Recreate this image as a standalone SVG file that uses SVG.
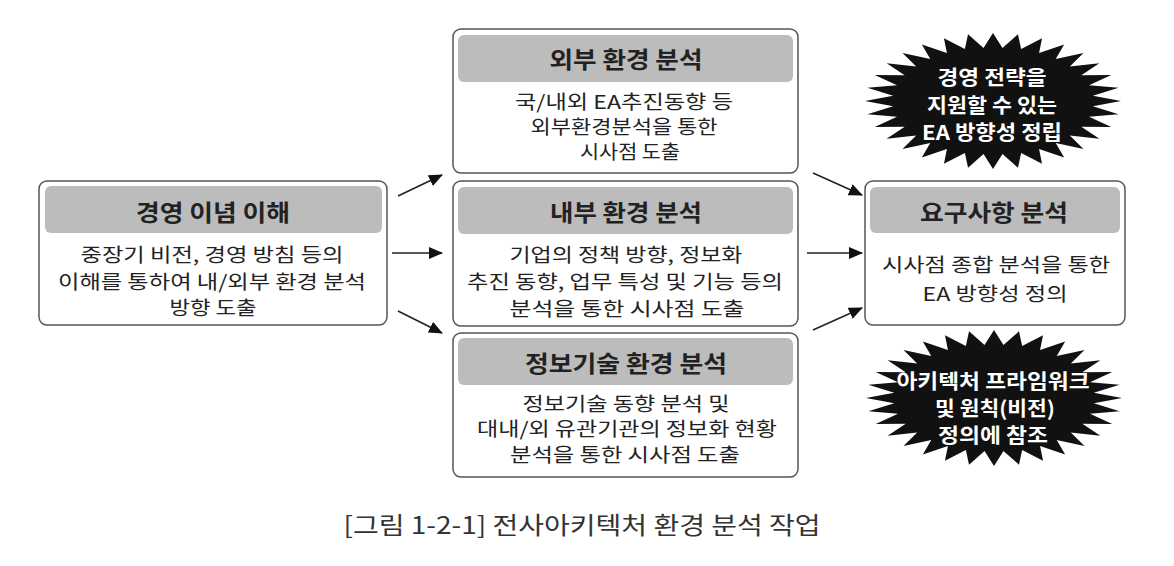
<svg xmlns="http://www.w3.org/2000/svg" width="1174" height="566" viewBox="0 0 1174 566">
<style>
.box{fill:#fff;stroke:#555;stroke-width:1.5}
.hdr{fill:#bcbcbc}
text{font-family:"Noto Sans CJK KR","Noto Sans",sans-serif;text-anchor:middle;dominant-baseline:central;fill:#222}
.h{font-size:23px;font-weight:bold}
.b{font-size:19px}
.s{font-size:20px;font-weight:bold;fill:#fff}
.cap{font-size:24px;fill:#333}
.conn line{stroke:#222;stroke-width:1.6;marker-end:url(#ah)}
</style>
<defs>
<marker id="ah" viewBox="0 0 14 12" refX="13" refY="6" markerWidth="14" markerHeight="12" markerUnits="userSpaceOnUse" orient="auto">
<path d="M0,0 L14,6 L0,12 z" fill="#111"/>
</marker>
<polygon id="star" points="1,0 .78,.078 .981,.195 .75,.232 .924,.383 .69,.377 .831,.556 .6,.508 .707,.707 .49,.618 .556,.831 .36,.706 .383,.924 .22,.766 .195,.981 .074,.78 0,1 -.074,.78 -.195,.981 -.22,.766 -.383,.924 -.36,.706 -.556,.831 -.49,.618 -.707,.707 -.6,.508 -.831,.556 -.69,.377 -.924,.383 -.75,.232 -.981,.195 -.78,.078 -1,0 -.78,-.078 -.981,-.195 -.75,-.232 -.924,-.383 -.69,-.377 -.831,-.556 -.6,-.508 -.707,-.707 -.49,-.618 -.556,-.831 -.36,-.706 -.383,-.924 -.22,-.766 -.195,-.981 -.074,-.78 0,-1 .074,-.78 .195,-.981 .22,-.766 .383,-.924 .36,-.706 .556,-.831 .49,-.618 .707,-.707 .6,-.508 .831,-.556 .69,-.377 .924,-.383 .75,-.232 .981,-.195 .78,-.078" fill="#111"/>
</defs>
<rect width="1174" height="566" fill="#fff"/>

<g id="mgmt">
<rect class="box" x="39" y="181" width="348" height="144" rx="8"/>
<rect class="hdr" x="45" y="186" width="337" height="47" rx="6"/>
<text class="h" x="213" y="211" textLength="154" lengthAdjust="spacingAndGlyphs">경영 이념 이해</text>
<text class="b" x="212" y="253" textLength="263" lengthAdjust="spacingAndGlyphs">중장기 비전, 경영 방침 등의</text>
<text class="b" x="212" y="280" textLength="308" lengthAdjust="spacingAndGlyphs">이해를 통하여 내/외부 환경 분석</text>
<text class="b" x="213" y="306" textLength="87" lengthAdjust="spacingAndGlyphs">방향 도출</text>
</g>

<g id="external">
<rect class="box" x="453" y="29" width="345" height="144" rx="8"/>
<rect class="hdr" x="458" y="35" width="335" height="47" rx="6"/>
<text class="h" x="626" y="58" textLength="153" lengthAdjust="spacingAndGlyphs">외부 환경 분석</text>
<text class="b" x="624" y="100" textLength="218" lengthAdjust="spacingAndGlyphs">국/내외 EA추진동향 등</text>
<text class="b" x="624" y="125" textLength="187" lengthAdjust="spacingAndGlyphs">외부환경분석을 통한</text>
<text class="b" x="630" y="150" textLength="100" lengthAdjust="spacingAndGlyphs">시사점 도출</text>
</g>

<g id="internal">
<rect class="box" x="453" y="181" width="345" height="145" rx="8"/>
<rect class="hdr" x="458" y="187" width="335" height="47" rx="6"/>
<text class="h" x="626" y="211" textLength="152" lengthAdjust="spacingAndGlyphs">내부 환경 분석</text>
<text class="b" x="626" y="253" textLength="233" lengthAdjust="spacingAndGlyphs">기업의 정책 방향, 정보화</text>
<text class="b" x="625" y="280" textLength="316" lengthAdjust="spacingAndGlyphs">추진 동향, 업무 특성 및 기능 등의</text>
<text class="b" x="627" y="307" textLength="235" lengthAdjust="spacingAndGlyphs">분석을 통한 시사점 도출</text>
</g>

<g id="it">
<rect class="box" x="453" y="333" width="345" height="144" rx="8"/>
<rect class="hdr" x="458" y="338" width="335" height="47" rx="6"/>
<text class="h" x="626" y="362" textLength="202" lengthAdjust="spacingAndGlyphs">정보기술 환경 분석</text>
<text class="b" x="626" y="402" textLength="207" lengthAdjust="spacingAndGlyphs">정보기술 동향 분석 및</text>
<text class="b" x="627" y="427" textLength="300" lengthAdjust="spacingAndGlyphs">대내/외 유관기관의 정보화 현황</text>
<text class="b" x="625" y="453" textLength="230" lengthAdjust="spacingAndGlyphs">분석을 통한 시사점 도출</text>
</g>

<g id="requirements">
<rect class="box" x="865" y="181" width="260" height="144" rx="8"/>
<rect class="hdr" x="870" y="187" width="250" height="46" rx="6"/>
<text class="h" x="994" y="211" textLength="148" lengthAdjust="spacingAndGlyphs">요구사항 분석</text>
<text class="b" x="996" y="263" textLength="228" lengthAdjust="spacingAndGlyphs">시사점 종합 분석을 통한</text>
<text class="b" x="995" y="292" textLength="145" lengthAdjust="spacingAndGlyphs">EA 방향성 정의</text>
</g>

<g id="burst-top">
<use href="#star" transform="translate(993,101) scale(128,68)"/>
<text class="s" x="992" y="76" textLength="109" lengthAdjust="spacingAndGlyphs">경영 전략을</text>
<text class="s" x="992" y="104" textLength="130" lengthAdjust="spacingAndGlyphs">지원할 수 있는</text>
<text class="s" x="992" y="131" textLength="140" lengthAdjust="spacingAndGlyphs">EA 방향성 정립</text>
</g>

<g id="burst-bottom">
<use href="#star" transform="translate(994,398) scale(128,68)"/>
<text class="s" x="993" y="380" textLength="193" lengthAdjust="spacingAndGlyphs">아키텍처 프라임워크</text>
<text class="s" x="995" y="407" textLength="120" lengthAdjust="spacingAndGlyphs">및 원칙(비전)</text>
<text class="s" x="993" y="434" textLength="110" lengthAdjust="spacingAndGlyphs">정의에 참조</text>
</g>

<g id="connectors" class="conn">
<line x1="398" y1="196" x2="442" y2="175"/>
<line x1="392" y1="253" x2="442" y2="253"/>
<line x1="398" y1="311" x2="442" y2="333"/>
<line x1="813" y1="173" x2="862" y2="195"/>
<line x1="807" y1="253" x2="862" y2="253"/>
<line x1="813" y1="330" x2="862" y2="308"/>
</g>

<text class="cap" x="582" y="523" textLength="477" lengthAdjust="spacingAndGlyphs">[그림 1-2-1] 전사아키텍처 환경 분석 작업</text>
</svg>
